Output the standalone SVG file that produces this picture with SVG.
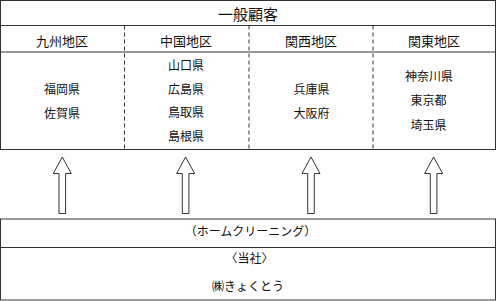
<svg xmlns="http://www.w3.org/2000/svg" width="499" height="301" viewBox="0 0 499 301">
<style>
text{font-family:"Noto Sans CJK JP","Noto Sans",sans-serif;fill:#111;text-anchor:middle}
.t{font-size:15px}
.h{font-size:13px}
.p{font-size:12px}
.box{fill:#fff;stroke:#333;stroke-width:1}
.ln{stroke:#333;stroke-width:1;fill:none}
.dash{stroke:#333;stroke-width:1;stroke-dasharray:4 3;fill:none}
.arrow{fill:#fff;stroke:#333;stroke-width:1}
</style>
<rect width="499" height="301" fill="#fff"/>
<g id="customers">
<rect class="box" x="0.5" y="0.5" width="495" height="149"/>
<line class="ln" x1="0.5" y1="25.5" x2="495.5" y2="25.5"/>
<line class="ln" x1="0.5" y1="52" x2="495.5" y2="52"/>
<line class="dash" x1="124.5" y1="25.5" x2="124.5" y2="149.5"/>
<line class="dash" x1="249" y1="25.5" x2="249" y2="149.5"/>
<line class="dash" x1="373" y1="25.5" x2="373" y2="149.5"/>
<text class="t" x="248" y="19.5">一般顧客</text>
</g>
<g id="kyushu">
<text class="h" x="62" y="45.5">九州地区</text>
<text class="p" x="62" y="94">福岡県</text>
<text class="p" x="62" y="118">佐賀県</text>
</g>
<g id="chugoku">
<text class="h" x="186" y="45.5">中国地区</text>
<text class="p" x="186" y="70.3">山口県</text>
<text class="p" x="186" y="94">広島県</text>
<text class="p" x="186" y="117.3">鳥取県</text>
<text class="p" x="186" y="140.6">島根県</text>
</g>
<g id="kansai">
<text class="h" x="311" y="45.5">関西地区</text>
<text class="p" x="311.5" y="94">兵庫県</text>
<text class="p" x="311.5" y="118">大阪府</text>
</g>
<g id="kanto">
<text class="h" x="434" y="45.5">関東地区</text>
<text class="p" x="429" y="81.3">神奈川県</text>
<text class="p" x="428.5" y="105.3">東京都</text>
<text class="p" x="428.5" y="129.6">埼玉県</text>
</g>
<g id="company">
<rect class="box" x="0.5" y="219" width="495" height="81"/>
<line class="ln" x1="0.5" y1="247.5" x2="495.5" y2="247.5"/>
<text class="p" x="250.5" y="236.3">（ホームクリーニング）</text>
<text class="p" x="249.5" y="263">〈当社〉</text>
<text class="p" x="248" y="290.6">㈱きょくとう</text>
</g>
<g id="connectors">
<polygon class="arrow" points="62.3,157 71.3,173.5 65.6,173.5 65.6,213.5 59,213.5 59,173.5 53.3,173.5"/>
<polygon class="arrow" points="185.6,157 194.6,173.5 188.9,173.5 188.9,213.5 182.3,213.5 182.3,173.5 176.6,173.5"/>
<polygon class="arrow" points="311,157 320,173.5 314.3,173.5 314.3,213.5 307.7,213.5 307.7,173.5 302,173.5"/>
<polygon class="arrow" points="433.6,157 442.6,173.5 436.9,173.5 436.9,213.5 430.3,213.5 430.3,173.5 424.6,173.5"/>
</g>
</svg>
